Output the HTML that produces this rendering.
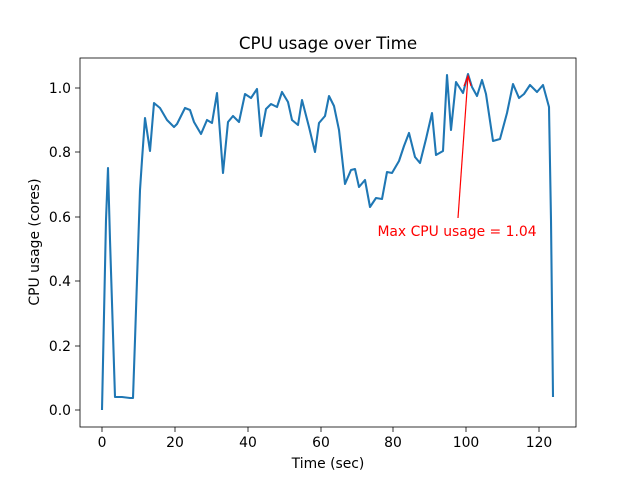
<!DOCTYPE html>
<html><head><meta charset="utf-8"><style>body{margin:0;background:#fff}svg{display:block}text{font-family:"DejaVu Sans","Liberation Sans",sans-serif}</style></head>
<body>
<svg width="640" height="480" viewBox="0 0 640 480" xmlns="http://www.w3.org/2000/svg">
<rect width="640" height="480" fill="#fff"/>
<text x="328" y="49" font-size="16.7" text-anchor="middle">CPU usage over Time</text>
<polyline fill="none" stroke="#1f77b4" stroke-width="2.08" stroke-linejoin="round" points="102,410 106,220 108,168 110,240 115,397 122,397 130,398 133,398 135,340 139,220 140,190 142,160 145,118 150,151 154,103 160,108 167,120 174,127 177,124 185,108 190,110 194,122 201,134 207,120 212,123 217,93 223,173 228,122 233,116 239,122 245,94 251,98 257,89 261,136 266,109 271,104 277,107 282,92 288,102 292,120 298,125 302,100 309,127 315,152 319,123 325,116 329,96 334,106 339,130 345,184 351,170 355,169 359,187 365,180 370,207 376,198 382,199 387,172 392,173 399,161 404,146 409,133 415,157 420,163 426,139 432,113 436,155 443,151 447,75 451,130 456,82 463,93 468,74 472,87 477,96 482,80 486,94 493,141 500,139 507,113 513,84 519,98 524,94 530,85 537,92 543,85 549,107 551,220 553,397"/>
<line x1="458" y1="218" x2="468" y2="76" stroke="red" stroke-width="1.2"/>
<polyline points="464,86 468,76 471,86" fill="none" stroke="red" stroke-width="1.2"/>
<text x="457" y="236" font-size="13.9" fill="red" text-anchor="middle">Max CPU usage = 1.04</text>
<rect x="80" y="58" width="496" height="369" fill="none" stroke="#000" stroke-width="0.8"/>
<g stroke="#000" stroke-width="0.8">
<line x1="102" y1="427" x2="102" y2="432"/><line x1="175" y1="427" x2="175" y2="432"/><line x1="248" y1="427" x2="248" y2="432"/><line x1="321" y1="427" x2="321" y2="432"/><line x1="393" y1="427" x2="393" y2="432"/><line x1="466" y1="427" x2="466" y2="432"/><line x1="539" y1="427" x2="539" y2="432"/>
<line x1="75" y1="410" x2="80" y2="410"/><line x1="75" y1="346" x2="80" y2="346"/><line x1="75" y1="281" x2="80" y2="281"/><line x1="75" y1="217" x2="80" y2="217"/><line x1="75" y1="152" x2="80" y2="152"/><line x1="75" y1="88" x2="80" y2="88"/>
</g>
<g font-size="13.9" text-anchor="middle">
<text x="102" y="447">0</text><text x="175" y="447">20</text><text x="248" y="447">40</text><text x="321" y="447">60</text><text x="393" y="447">80</text><text x="466" y="447">100</text><text x="539" y="447">120</text>
</g>
<g font-size="13.9" text-anchor="end">
<text x="71" y="415">0.0</text><text x="71" y="351">0.2</text><text x="71" y="286">0.4</text><text x="71" y="222">0.6</text><text x="71" y="157">0.8</text><text x="71" y="93">1.0</text>
</g>
<text x="328" y="468" font-size="13.9" text-anchor="middle">Time (sec)</text>
<text transform="translate(39,242) rotate(-90)" font-size="13.9" text-anchor="middle">CPU usage (cores)</text>
</svg>
</body></html>
